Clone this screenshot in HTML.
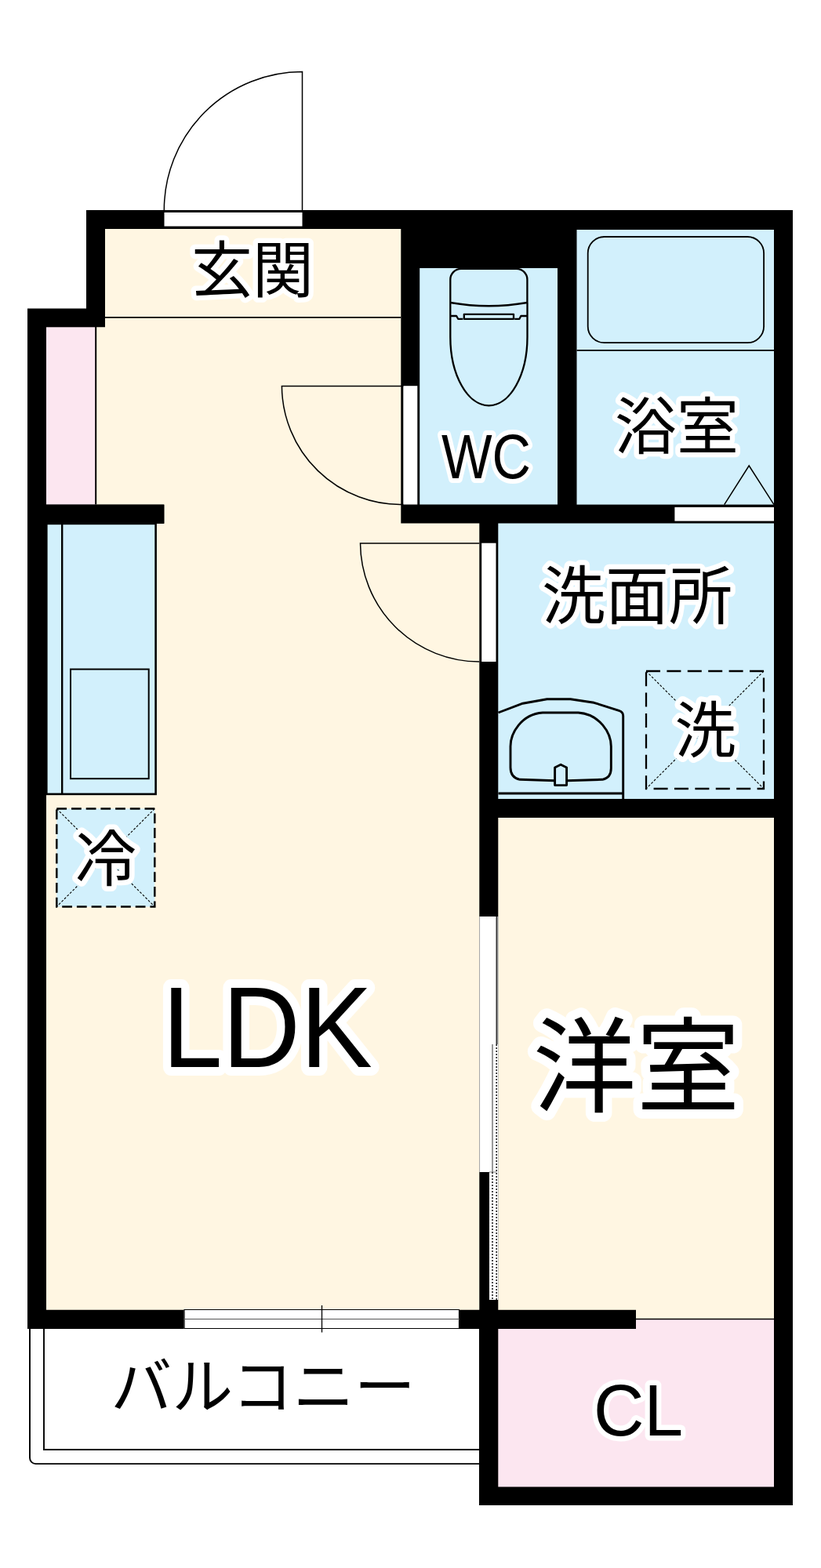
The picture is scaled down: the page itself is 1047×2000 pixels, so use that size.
<!DOCTYPE html>
<html lang="ja"><head><meta charset="utf-8"><title>間取り図</title>
<style>
html,body{margin:0;padding:0;background:#fff;font-family:"Liberation Sans",sans-serif}
svg{display:block}
#labels text{font-family:"Liberation Sans","Noto Sans CJK JP",sans-serif;text-anchor:middle}
</style></head><body>
<svg width="1047" height="2000" viewBox="0 0 1047 2000">
<defs><filter id="hb" x="-10%" y="-10%" width="120%" height="120%"><feGaussianBlur stdDeviation="0.6"/></filter></defs>
<rect width="1047" height="2000" fill="#fff"/>
<!-- outer wall mass -->
<path d="M110,268H1011V1920H611V1695H35V393.5H110Z" fill="#000"/>
<!-- room fills -->
<g id="rooms">
<path d="M134,292H511.3V667.5H611.3V1670.8H59V667.5H209.3V643.5H122V417.3H134Z" fill="#fff6e2"/>
<rect x="59" y="417.3" width="63" height="226.2" fill="#fce6f0"/>
<rect x="59" y="667.5" width="140.3" height="346.5" fill="#d2f0fc"/>
<rect x="535.2" y="342" width="175.8" height="301.5" fill="#d2f0fc"/>
<rect x="735.5" y="293" width="251.5" height="350.6" fill="#d2f0fc"/>
<rect x="635.3" y="667.5" width="351.7" height="351.5" fill="#d2f0fc"/>
<rect x="635.3" y="1043" width="351.7" height="640" fill="#fff6e2"/>
<rect x="635.3" y="1682.5" width="351.7" height="214" fill="#fce6f0"/>
</g>
<!-- interior wall bits -->
<g id="walls" fill="#000">
<rect x="611.3" y="1670.8" width="199.7" height="24.2"/>
<rect x="59" y="643.8" width="150.3" height="24.1"/>
</g>
<!-- thin lines -->
<g id="lines" fill="none" stroke="#000" stroke-width="1.5">
<path d="M134,404.8H511.3" stroke-width="1.8"/>
<path d="M122.2,417V643.5" stroke-width="2"/>
<path d="M811,1682.5H987" stroke-width="1.7"/>
</g>
<!-- entrance door -->
<g id="entrance" fill="none" stroke="#000" stroke-width="1.5">
<rect x="209.5" y="271" width="176" height="17.6" fill="#fff" stroke="none"/>
<path d="M385.5,268V91.5A176.5,176.5 0 0 0 209.3,268"/>
</g>
<!-- WC door -->
<g id="wcdoor" fill="none" stroke="#000" stroke-width="1.5">
<rect x="514.3" y="492.2" width="18" height="151.3" fill="#fff" stroke="none"/>
<path d="M514.3,492.6H359.4A152,152 0 0 0 514.3,643.5"/>
</g>
<!-- washroom door -->
<g id="wrdoor" fill="none" stroke="#000" stroke-width="1.5">
<rect x="614.2" y="692.7" width="18.3" height="151.3" fill="#fff" stroke="none"/>
<path d="M611.3,693H459.5A152,152 0 0 0 611.3,844"/>
</g>
<!-- bath door -->
<g id="bathdoor" fill="none" stroke="#000" stroke-width="1.5">
<rect x="860.4" y="647" width="126.6" height="17.6" fill="#fff" stroke="none"/>
<path d="M923.7,643.7L955.2,594L987,643.7"/>
</g>
<!-- bathtub -->
<g id="bathtub" fill="none" stroke="#000" stroke-width="1.8">
<rect x="749.7" y="302" width="224.4" height="135.2" rx="21" ry="21"/>
<path d="M735.5,446.8H987"/>
</g>
<!-- toilet -->
<g id="toilet" fill="none" stroke="#000" stroke-width="2.3" stroke-linejoin="round">
<path d="M574.3,386V356.5A13.7,13.7 0 0 1 588,342.8H658.7A13.7,13.7 0 0 1 672.4,356.5V386"/>
<path d="M574.3,386Q623.3,394.5 672.4,386"/>
<path d="M574.3,386V430A49.1,87.3 0 0 0 672.5,430V386"/>
<rect x="591.8" y="400.9" width="63.2" height="5.9"/>
<path d="M574.3,403H582.1L584.2,406.8H590.4M672.4,403H664.3L662.4,406.8H656.2"/>
</g>
<!-- kitchen -->
<g id="kitchen" fill="none" stroke="#000">
<rect x="59.3" y="667.9" width="139.3" height="345" stroke-width="2.6"/>
<path d="M79.2,667.5V1012.9" stroke-width="2.4"/>
<rect x="90" y="853.6" width="99.7" height="139.6" stroke-width="2"/>
</g>
<!-- fridge -->
<g id="fridge" fill="none" stroke="#000">
<rect x="72.3" y="1031.5" width="125" height="125" fill="#d2f0fc" stroke-width="2.5" stroke-dasharray="12.8 5.9"/>
<path d="M72.3,1031.5L197.3,1156.5M197.3,1031.5L72.3,1156.5" stroke-width="1.1" stroke-dasharray="3 2"/>
</g>
<!-- washer -->
<g id="washer" fill="none" stroke="#000">
<rect x="824" y="856" width="150" height="150" stroke-width="2.3" stroke-dasharray="18 8.4"/>
<path d="M824,856L974,1006M974,856L824,1006" stroke-width="1.1" stroke-dasharray="3 2"/>
</g>
<!-- washbasin -->
<g id="basin" fill="none" stroke="#000" stroke-width="2.9" stroke-linejoin="round">
<path d="M635.5,909L666.7,897.2L697.6,891.8H727.5L757.5,896.3L789.2,906.3Q794.7,908 794.7,913V1019"/>
<path d="M635.5,1012H794.7"/>
<path d="M692,909H737.5C765,911 779.3,935 779.3,952V980Q779.3,992 768.4,994.3L715,996L663,994.3Q651,992 651,979V952C651,935 665,911 692,909Z"/>
<path d="M707.6,1001.6V979L715.1,975.3L722.6,979V1001.6Z" fill="#d2f0fc"/>
</g>
<!-- sliding door -->
<g id="slide">
<rect x="611.3" y="1169" width="24.2" height="326" fill="#fff"/>
<rect x="624" y="1495" width="11.5" height="163" fill="#fff"/>
<path d="M611.6,1169V1495" stroke="#999" stroke-width="0.7" fill="none"/>
<path d="M635.4,1169V1658" stroke="#aaa" stroke-width="0.5" fill="none"/>
<path d="M633.5,1169V1332" stroke="#333" stroke-width="2" fill="none"/>
<path d="M628,1332V1495" stroke="#777" stroke-width="1.5" fill="none"/>
<path d="M633.2,1332V1658" stroke="#222" stroke-width="1.6" stroke-dasharray="2 2" fill="none"/>
<path d="M624,1495H633.5" stroke="#666" stroke-width="0.8" fill="none"/>
<path d="M628,1495V1658" stroke="#222" stroke-width="1.6" stroke-dasharray="2 2" fill="none"/>
</g>
<!-- balcony window -->
<g id="window" fill="none" stroke="#000" stroke-width="1">
<rect x="234.5" y="1670" width="351.5" height="25" fill="#fff" stroke="none"/>
<path d="M234.5,1670.5H586M234.5,1694.5H586M235,1670V1695M585.5,1670V1695" stroke-width="1.2"/>
<path d="M234.5,1682.5H586" stroke="#555"/>
<path d="M410.5,1665V1699.5" stroke-width="1.3"/>
</g>
<!-- balcony -->
<g id="balcony" fill="none" stroke="#000" stroke-width="1.9">
<path d="M38,1695V1859.6A7.5,7.5 0 0 0 45.5,1867.1H611.3"/>
<path d="M56,1695V1849H611.3"/>
</g>

<g id="labels">
<g>
<text x="322" y="373" font-size="78" fill="none" stroke="#fff" stroke-width="12.7" stroke-linejoin="round" stroke-linecap="round" filter="url(#hb)">玄関</text>
<text x="322" y="373" font-size="78" fill="#000">玄関</text>
</g>
<g>
<text x="620" y="609.5" font-size="79" textLength="114" lengthAdjust="spacingAndGlyphs" fill="none" stroke="#fff" stroke-width="12" stroke-linejoin="round" stroke-linecap="round" filter="url(#hb)">WC</text>
<text x="620" y="609.5" font-size="79" textLength="114" lengthAdjust="spacingAndGlyphs" fill="#000">WC</text>
</g>
<g>
<text x="863" y="573" font-size="79" fill="none" stroke="#fff" stroke-width="12.7" stroke-linejoin="round" stroke-linecap="round" filter="url(#hb)">浴室</text>
<text x="863" y="573" font-size="79" fill="#000">浴室</text>
</g>
<g>
<text x="812.5" y="789" font-size="81" fill="none" stroke="#fff" stroke-width="13" stroke-linejoin="round" stroke-linecap="round" filter="url(#hb)">洗面所</text>
<text x="812.5" y="789" font-size="81" fill="#000">洗面所</text>
</g>
<g>
<text x="899.5" y="960" font-size="78" fill="none" stroke="#fff" stroke-width="13.3" stroke-linejoin="round" stroke-linecap="round" filter="url(#hb)">洗</text>
<text x="899.5" y="960" font-size="78" fill="#000">洗</text>
</g>
<g>
<text x="135" y="1124" font-size="78" fill="none" stroke="#fff" stroke-width="13.3" stroke-linejoin="round" stroke-linecap="round" filter="url(#hb)">冷</text>
<text x="135" y="1124" font-size="78" fill="#000">冷</text>
</g>
<g>
<text x="341" y="1360.5" font-size="145.7" textLength="268" lengthAdjust="spacingAndGlyphs" fill="none" stroke="#fff" stroke-width="21.86" stroke-linejoin="round" stroke-linecap="round" filter="url(#hb)">LDK</text>
<text x="341" y="1360.5" font-size="145.7" textLength="268" lengthAdjust="spacingAndGlyphs" fill="#000">LDK</text>
</g>
<g>
<text x="811.5" y="1408" font-size="132" fill="none" stroke="#fff" stroke-width="23.25" stroke-linejoin="round" stroke-linecap="round" filter="url(#hb)">洋室</text>
<text x="811.5" y="1408" font-size="132" fill="#000">洋室</text>
</g>
<g>
<text x="814" y="1830.9" font-size="93.6" textLength="114" lengthAdjust="spacingAndGlyphs" fill="none" stroke="#fff" stroke-width="12.95" stroke-linejoin="round" stroke-linecap="round" filter="url(#hb)">CL</text>
<text x="814" y="1830.9" font-size="93.6" textLength="114" lengthAdjust="spacingAndGlyphs" fill="#000">CL</text>
</g>
<g>
<text x="335.5" y="1797" font-size="78" fill="#000">バルコニー</text>
</g>
</g>
</svg>
</body></html>
